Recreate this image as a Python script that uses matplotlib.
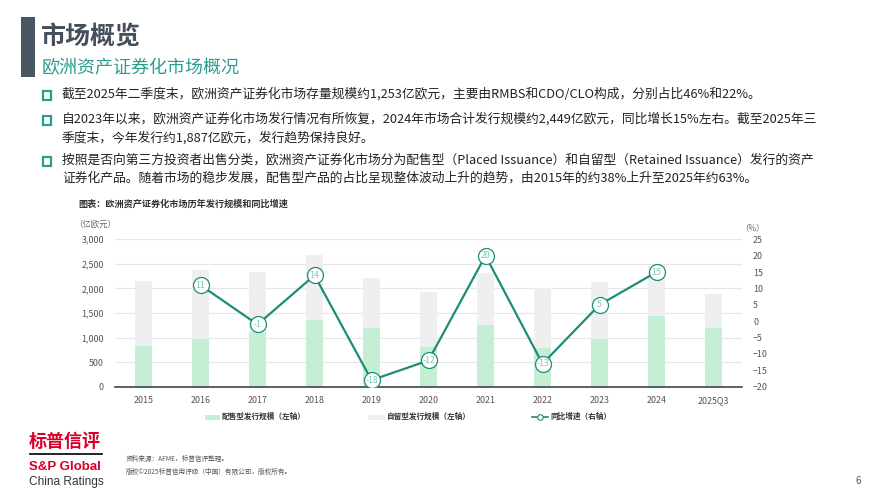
import matplotlib
matplotlib.use('Agg')
import matplotlib.pyplot as plt
from matplotlib.patches import Rectangle
from matplotlib.lines import Line2D

plt.rcParams['font.family'] = ['Noto Sans CJK SC', 'DejaVu Sans']

# 数据（亿欧元 / %）
years = ['2015', '2016', '2017', '2018', '2019', '2020', '2021', '2022', '2023', '2024', '2025Q3']
placed = [828, 964, 1120, 1357, 1201, 815, 1256, 794, 964, 1446, 1188]
total = [2152, 2376, 2342, 2681, 2206, 1934, 2321, 2016, 2124, 2449, 1887]
retained = [t - p for t, p in zip(total, placed)]
growth = [None, 11, -1, 14, -18, -12, 20, -13, 5, 15, None]

left_ticks = [0, 500, 1000, 1500, 2000, 2500, 3000]
right_ticks = [-20, -15, -10, -5, 0, 5, 10, 15, 20, 25]

bullets = [
    '截至2025年二季度末，欧洲资产证券化市场存量规模约1,253亿欧元，主要由RMBS和CDO/CLO构成，分别占比46%和22%。',
    '自2023年以来，欧洲资产证券化市场发行情况有所恢复，2024年市场合计发行规模约2,449亿欧元，同比增长15%左右。截至2025年三\n季度末，今年发行约1,887亿欧元，发行趋势保持良好。',
    '按照是否向第三方投资者出售分类，欧洲资产证券化市场分为配售型（Placed Issuance）和自留型（Retained Issuance）发行的资产\n证券化产品。随着市场的稳步发展，配售型产品的占比呈现整体波动上升的趋势，由2015年的约38%上升至2025年约63%。',
]

W, H = 889, 500
GREEN = '#c5efd5'
GRAY = '#efefef'
TEAL = '#1d8c78'
TEAL_TXT = '#2a9d8f'
DARK = '#454f5c'
RED = '#d6002a'

fig = plt.figure(figsize=(W / 100, H / 100), dpi=100)


def fx(x):
    return x / W


def fy(y):
    return 1 - y / H


# 标题区
fig.add_artist(Rectangle((fx(21), fy(77)), 14 / W, 60 / H, transform=fig.transFigure,
                         color='#4a5563', lw=0))
fig.text(fx(41), fy(37), '市场概览', fontsize=18, fontweight='bold', color=DARK, va='center')
fig.text(fx(42), fy(68), '欧洲资产证券化市场概况', fontsize=13, color=TEAL_TXT, va='center')

# 要点
line_y = [95, 120, 161]
for text, y in zip(bullets, line_y):
    fig.add_artist(Rectangle((fx(42.5), fy(y + 4.5)), 8.5 / W, 8.5 / H, transform=fig.transFigure,
                             fill=False, ec=TEAL_TXT, lw=1.6))
    fig.text(fx(62), fy(y - 7.5), text, fontsize=9.2, color='#222222', va='top',
             linespacing=1.5)

fig.text(fx(78), fy(204), '图表：欧洲资产证券化市场历年发行规模和同比增速', fontsize=6.6,
         fontweight='bold', color='#333333', va='center')
fig.text(fx(74), fy(224), '（亿欧元）', fontsize=6, color='#666666', va='center')
fig.text(fx(740), fy(228), '（%）', fontsize=6, color='#666666', va='center')

# 图表
ax = fig.add_axes([fx(115), fy(386.7), (742 - 115) / W, (386.7 - 239.3) / H])
x = list(range(len(years)))
ax.bar(x, placed, width=0.31, color=GREEN, zorder=2)
ax.bar(x, retained, bottom=placed, width=0.31, color=GRAY, zorder=2)
ax.set_xlim(-0.5, len(years) - 0.5)
ax.set_ylim(0, 3000)
ax.set_yticks(left_ticks)
ax.set_yticklabels([f'{v:,}' for v in left_ticks])
ax.set_xticks(x)
ax.set_xticklabels(years)
ax.tick_params(length=0, labelsize=6.4, labelcolor='#555555')
ax.tick_params(axis='x', pad=7)
ax.tick_params(axis='y', pad=8)
ax.grid(axis='y', color='#e6e6e6', lw=0.8, zorder=0)
for s in ['top', 'right', 'left']:
    ax.spines[s].set_visible(False)
ax.spines['bottom'].set_color('#444444')
ax.spines['bottom'].set_linewidth(1.2)

ax2 = ax.twinx()
ax2.set_ylim(-20, 25)
ax2.set_yticks(right_ticks)
ax2.tick_params(length=0, labelsize=6.4, labelcolor='#555555', pad=8)
for s in ['top', 'right', 'left', 'bottom']:
    ax2.spines[s].set_visible(False)
gx = [i for i, g in zip(x, growth) if g is not None]
gy = [g for g in growth if g is not None]
ax2.plot(gx, gy, color=TEAL, lw=1.6, marker='o', markersize=11.5, markerfacecolor='white',
         markeredgecolor=TEAL, markeredgewidth=0.9, zorder=3)
for i, g in zip(gx, gy):
    ax2.text(i, g, str(g), fontsize=6.3, color='#7cc8b8', ha='center', va='center', zorder=4)

# 图例
fig.add_artist(Rectangle((fx(205), fy(419.5)), 15 / W, 5 / H, transform=fig.transFigure, color=GREEN, lw=0))
fig.text(fx(222), fy(416.5), '配售型发行规模（左轴）', fontsize=5.5, fontweight='bold', color='#333333', va='center')
fig.add_artist(Rectangle((fx(368), fy(419.5)), 17 / W, 5 / H, transform=fig.transFigure, color=GRAY, lw=0))
fig.text(fx(386.5), fy(416.5), '自留型发行规模（左轴）', fontsize=5.5, fontweight='bold', color='#333333', va='center')
fig.add_artist(Line2D([fx(532), fx(548)], [fy(416.5), fy(416.5)], transform=fig.transFigure,
                      color=TEAL, lw=1.2))
fig.add_artist(Line2D([fx(540)], [fy(416.5)], transform=fig.transFigure, color=TEAL, marker='o',
                      ms=4, mfc='white', mec=TEAL, mew=0.8, lw=0))
fig.text(fx(550), fy(416.5), '同比增速（右轴）', fontsize=5.5, fontweight='bold', color='#333333', va='center')

# 标志与页脚
fig.text(fx(29), fy(441), '标普信评', fontsize=13, fontweight='bold', color=RED, va='center')
fig.add_artist(Line2D([fx(30), fx(102)], [fy(454), fy(454)], transform=fig.transFigure, color='black', lw=1.2))
fig.text(fx(29), fy(466.5), 'S&P Global', fontsize=9.5, fontweight='bold', color=RED, va='center',
         family=['Liberation Sans', 'DejaVu Sans'])
fig.text(fx(29.5), fy(481.5), 'China Ratings', fontsize=8.6, color='#333333', va='center',
         family=['Liberation Sans', 'DejaVu Sans'])
fig.text(fx(126), fy(459), '资料来源：AFME，标普信评整理。', fontsize=4.8, color='#555555', va='center')
fig.text(fx(126), fy(471.5), '版权©2025标普信用评级（中国）有限公司，版权所有。', fontsize=4.8, color='#555555', va='center')
fig.text(fx(855), fy(481), '6', fontsize=7, color='#555555', va='center')

fig.savefig('out.png', dpi=100)
